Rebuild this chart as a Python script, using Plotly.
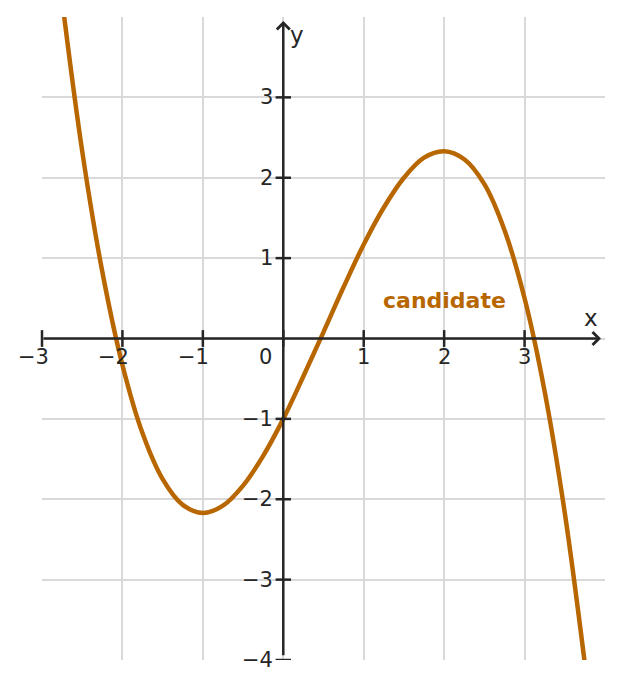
import plotly.graph_objects as go

# curve samples
xs = [-2.8, -2.75, -2.5, -2.25, -2.0, -1.75, -1.5, -1.25, -1.0, -0.75, -0.5, -0.25,
      0.0, 0.25, 0.5, 0.75, 1.0, 1.25, 1.5, 1.75, 2.0, 2.25, 2.5, 2.75, 3.0, 3.25,
      3.5, 3.75, 3.8]
ys = [4.64, 4.21, 2.33, 0.83, -0.33, -1.18, -1.75, -2.07, -2.17, -2.08, -1.83, -1.46,
      -1.0, -0.47, 0.08, 0.64, 1.17, 1.63, 2.0, 2.25, 2.33, 2.23, 1.92, 1.35, 0.5, -0.66,
      -2.17, -4.05, -4.47]

x_ticks = [-3, -2, -1, 1, 2, 3]
y_ticks = [-4, -3, -2, -1, 1, 2, 3]
x_grid = [-3, -2, -1, 0, 1, 2, 3]
y_grid = [-4, -3, -2, -1, 0, 1, 2, 3]

ink = "#262626"
orange = "#b86600"
font = "DejaVu Sans"

fig = go.Figure()

# curve
fig.add_trace(go.Scatter(x=xs, y=ys, mode="lines", line=dict(color=orange, width=4.5, shape="spline", smoothing=1.0),
                         hoverinfo="skip"))

# tick marks on the axes
fig.add_trace(go.Scatter(x=x_ticks + [0], y=[0] * (len(x_ticks) + 1), mode="markers", cliponaxis=False,
                         marker=dict(symbol="line-ns", size=12, line=dict(color=ink, width=2.5)),
                         hoverinfo="skip"))
fig.add_trace(go.Scatter(x=[0] * len(y_ticks), y=y_ticks, mode="markers",
                         marker=dict(symbol="line-ew", size=11, line=dict(color=ink, width=2.5)),
                         hoverinfo="skip"))

# axis lines with arrow heads
fig.add_annotation(x=3.95, y=0, ax=-3, ay=0, xref="x", yref="y", axref="x", ayref="y",
                   text="", showarrow=True, arrowhead=4, arrowsize=1, arrowwidth=2.5, arrowcolor=ink)
fig.add_annotation(x=0, y=3.95, ax=0, ay=-3.96, xref="x", yref="y", axref="x", ayref="y",
                   text="", showarrow=True, arrowhead=4, arrowsize=1, arrowwidth=2.5, arrowcolor=ink)

# tick labels (negative ones keep the digit under the tick)
for v in x_ticks:
    fig.add_annotation(x=v, y=0, text=str(v).replace("-", "\u2212"), showarrow=False,
                       yanchor="top", yshift=-4, xshift=-9 if v < 0 else 0,
                       font=dict(family=font, size=21, color=ink))
fig.add_annotation(x=0, y=0, text="0", showarrow=False, xanchor="right", yanchor="top",
                   xshift=-9, yshift=-4, font=dict(family=font, size=21, color=ink))
for v in y_ticks:
    fig.add_annotation(x=0, y=v, text=str(v).replace("-", "\u2212"), showarrow=False,
                       xanchor="right", xshift=-8, font=dict(family=font, size=21, color=ink))

# axis names and curve label
fig.add_annotation(x=3.82, y=0.25, text="x", showarrow=False, font=dict(family=font, size=23, color=ink))
fig.add_annotation(x=0.17, y=3.78, text="y", showarrow=False, font=dict(family=font, size=23, color=ink))
fig.add_annotation(x=2.0, y=0.47, text="<b>candidate</b>", showarrow=False,
                   font=dict(family=font, size=22, color=orange))

fig.update_xaxes(range=[-3, 4], tickvals=x_grid, showticklabels=False, showgrid=True,
                 gridcolor="#d9d9d9", gridwidth=1.5, zeroline=False, showline=False)
fig.update_yaxes(range=[-4, 4], tickvals=y_grid, showticklabels=False, showgrid=True,
                 gridcolor="#d9d9d9", gridwidth=1.5, zeroline=False, showline=False)

fig.update_layout(width=622, height=689, margin=dict(l=34, r=25, t=9, b=37),
                  plot_bgcolor="white", paper_bgcolor="white", showlegend=False)

fig.write_html("out.html")
